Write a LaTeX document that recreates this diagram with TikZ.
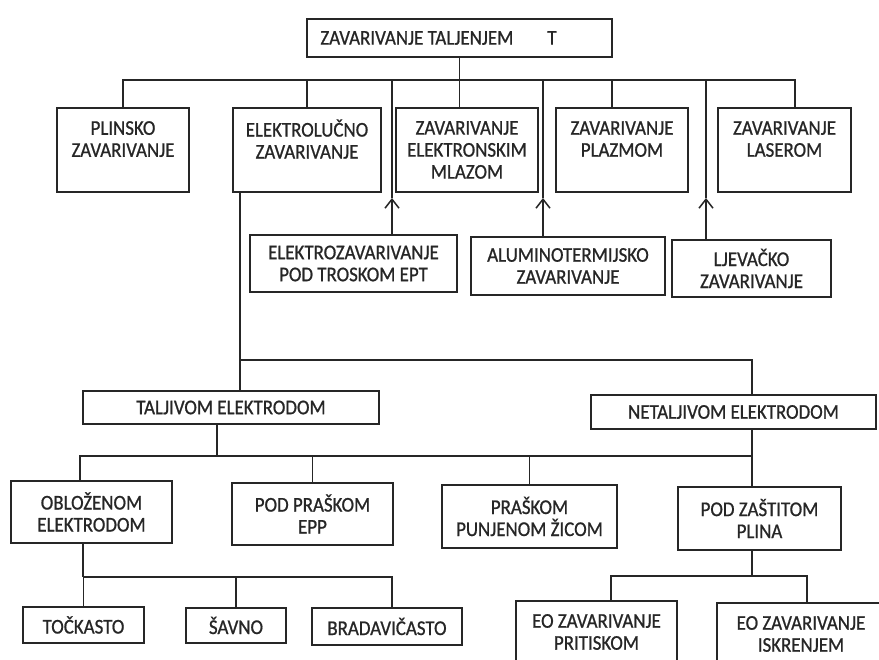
\documentclass[tikz,border=0pt]{standalone}
\usepackage{fontspec}
\setmainfont{Carlito}
\newfontfamily\boxfont{Carlito}[FakeStretch=0.9,FakeBold=0.8]
\usetikzlibrary{arrows.meta}

\begin{document}
\begin{tikzpicture}[scale=1.000000,x=1pt,y=1pt,
  box/.style={draw=black!85, line width=1.8pt, fill=white, align=center, inner sep=0pt, text=black!85, font=\boxfont\fontsize{21}{22}\selectfont},
  wire/.style={draw=black!85, line width=1.8pt},
  barb/.style={-{Straight Barb[length=9pt,width=14pt,line width=1.5pt]}}]
\clip (0.000000, 0.000000) rectangle (879.000000, 660.000000);
\fill[color=white] (0.000000, 0.000000) rectangle (879.000000, 660.000000);
% Drawing boxes
% Row 1: zavarivanje taljenjem
\node[box, minimum width=305pt, minimum height=38pt] (talj) at (459.500000, 622.000000) {ZAVARIVANJE TALJENJEM\hspace{34pt}T\hspace{42pt}};
% Row 2: five kinds
\node[box, minimum width=132pt, minimum height=84pt] (plinsko) at (123.000000, 510.000000) {PLINSKO\\ZAVARIVANJE\\~};
\node[box, minimum width=148pt, minimum height=84pt] (elektrolucno) at (307.000000, 510.000000) {ELEKTROLUČNO\\ZAVARIVANJE\\~};
\node[box, minimum width=142pt, minimum height=84pt] (elektronskim) at (467.000000, 510.000000) {ZAVARIVANJE\\ELEKTRONSKIM\\MLAZOM};
\node[box, minimum width=132pt, minimum height=84pt] (plazmom) at (622.000000, 510.000000) {ZAVARIVANJE\\PLAZMOM\\~};
\node[box, minimum width=133pt, minimum height=84pt] (laserom) at (784.500000, 510.000000) {ZAVARIVANJE\\LASEROM\\~};
% Row 3: fed in from below
\node[box, minimum width=207pt, minimum height=57pt] (ept) at (353.500000, 396.500000) {ELEKTROZAVARIVANJE\\POD TROSKOM EPT};
\node[box, minimum width=194pt, minimum height=58pt] (alumino) at (568.000000, 394.000000) {ALUMINOTERMIJSKO\\ZAVARIVANJE};
\node[box, minimum width=159pt, minimum height=57pt] (ljevacko) at (751.500000, 391.500000) {LJEVAČKO\\ZAVARIVANJE};
% Row 4: electrodes
\node[box, minimum width=296pt, minimum height=33pt] (taljivom) at (231.000000, 252.500000) {TALJIVOM ELEKTRODOM};
\node[box, minimum width=285pt, minimum height=34pt] (netaljivom) at (733.500000, 248.000000) {NETALJIVOM ELEKTRODOM};
% Row 5: four methods
\node[box, minimum width=161pt, minimum height=62pt] (oblozenom) at (91.500000, 148.000000) {OBLOŽENOM\\ELEKTRODOM};
\node[box, minimum width=161pt, minimum height=62pt] (podpraskom) at (312.500000, 146.000000) {POD PRAŠKOM\\EPP};
\node[box, minimum width=175pt, minimum height=63pt] (praskom) at (529.500000, 143.500000) {PRAŠKOM\\PUNJENOM ŽICOM};
\node[box, minimum width=163pt, minimum height=63pt] (podzastitom) at (759.500000, 141.500000) {POD ZAŠTITOM\\PLINA};
% Row 6: leaves
\node[box, minimum width=121pt, minimum height=36pt] (tockasto) at (83.500000, 35.000000) {TOČKASTO};
\node[box, minimum width=100pt, minimum height=35pt] (savno) at (236.000000, 34.500000) {ŠAVNO};
\node[box, minimum width=150pt, minimum height=37pt] (bradavicasto) at (387.000000, 33.500000) {BRADAVIČASTO};
\node[box, minimum width=161pt, minimum height=62pt] (eoprit) at (596.500000, 28.000000) {EO ZAVARIVANJE\\PRITISKOM};
\node[box, minimum width=168pt, minimum height=62pt] (eoiskr) at (801.000000, 26.000000) {EO ZAVARIVANJE\\ISKRENJEM};
% Done with boxes; drawing connectors
\coordinate (b1) at (0.000000, 580.000000);
\coordinate (tipy) at (0.000000, 462.000000);
\coordinate (b2) at (0.000000, 300.000000);
\coordinate (b3) at (0.000000, 204.000000);
\coordinate (b4) at (0.000000, 84.000000);
\coordinate (b5) at (0.000000, 83.000000);
% Line 1: top bus
\draw[wire] (talj.south) -- (elektronskim.north -| talj.south);
\draw[wire] (plinsko.north) |- ([xshift=10.5pt]laserom.north |- b1) -- ([xshift=10.5pt]laserom.north);
\draw[wire] (elektrolucno.north) -- (elektrolucno.north |- b1);
\draw[wire] ([xshift=-10pt]plazmom.north) -- ([xshift=-10pt]plazmom.north |- b1);
% Line 2: arrows up to the bus
\draw[wire,barb] ([xshift=38.5pt]ept.north) -- ([xshift=38.5pt]ept.north |- tipy);
\draw[wire] ([xshift=38.5pt]ept.north |- tipy) -- ([xshift=38.5pt]ept.north |- b1);
\draw[wire,barb] ([xshift=-25pt]alumino.north) -- ([xshift=-25pt]alumino.north |- tipy);
\draw[wire] ([xshift=-25pt]alumino.north |- tipy) -- ([xshift=-25pt]alumino.north |- b1);
\draw[wire,barb] ([xshift=-45.5pt]ljevacko.north) -- ([xshift=-45.5pt]ljevacko.north |- tipy);
\draw[wire] ([xshift=-45.5pt]ljevacko.north |- tipy) -- ([xshift=-45.5pt]ljevacko.north |- b1);
% Line 3: elektrolucno down to the electrodes
\draw[wire] ([xshift=-67pt]elektrolucno.south) -- ([xshift=-67pt]elektrolucno.south |- taljivom.north);
\draw[wire] ([xshift=-67pt]elektrolucno.south |- b2) -| ([xshift=18.5pt]netaljivom.north);
\draw[wire] ([xshift=18.5pt]netaljivom.south) -- ([xshift=18.5pt]netaljivom.south |- podzastitom.north);
% Line 4: taljivom bus
\draw[wire] ([xshift=-14pt]taljivom.south) -- ([xshift=-14pt]taljivom.south |- b3);
\draw[wire] ([xshift=-11.5pt]oblozenom.north) |- ([xshift=18.5pt]netaljivom.south |- b3);
\draw[wire] (podpraskom.north) -- (podpraskom.north |- b3);
\draw[wire] (praskom.north) -- (praskom.north |- b3);
% Line 5: pod zastitom bus
\draw[wire] ([xshift=-7.5pt]podzastitom.south) -- ([xshift=-7.5pt]podzastitom.south |- b4);
\draw[wire] ([xshift=14.5pt]eoprit.north) |- ([xshift=6pt]eoiskr.north |- b4) -- ([xshift=6pt]eoiskr.north);
% Line 6: oblozenom bus
\draw[wire] ([xshift=-8.5pt]oblozenom.south) -- ([xshift=-8.5pt]oblozenom.south |- b5);
\draw[wire] (tockasto.north) |- ([xshift=5pt]bradavicasto.north |- b5) -- ([xshift=5pt]bradavicasto.north);
\draw[wire] (savno.north) -- (savno.north |- b5);
% Done with connectors
\end{tikzpicture}
\end{document}
